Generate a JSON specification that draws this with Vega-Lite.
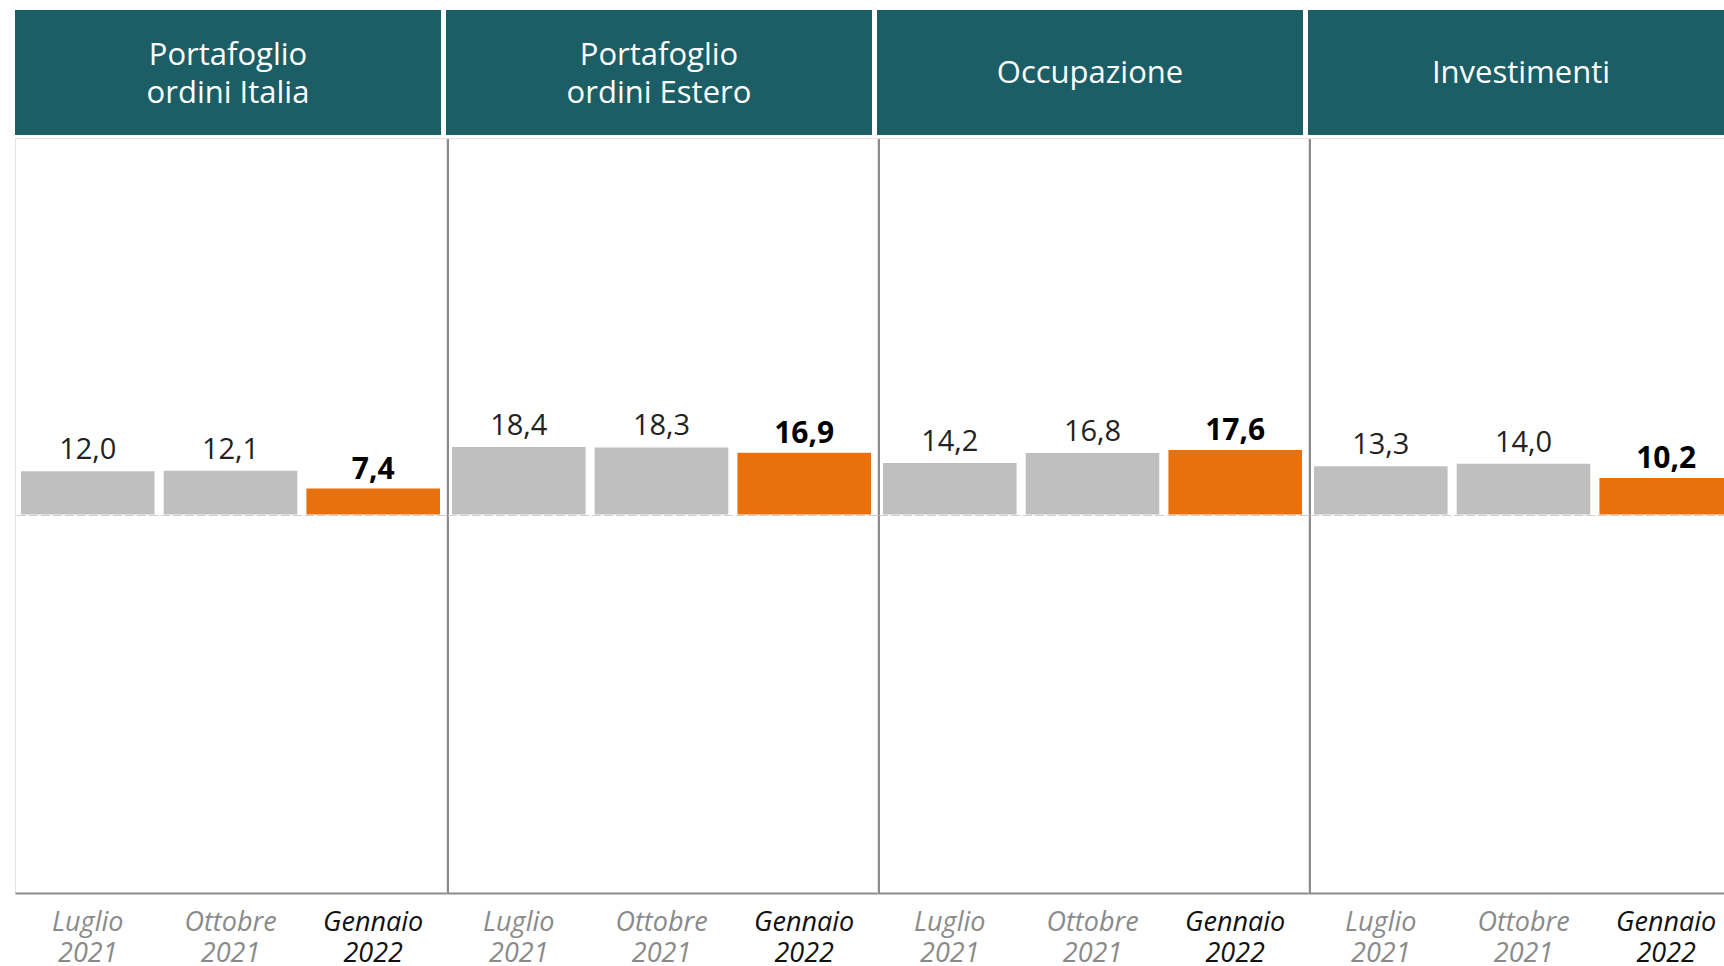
{
  "$schema": "https://vega.github.io/schema/vega-lite/v6.json",
  "padding": {"left": 13, "top": 10, "right": 0, "bottom": 0},
  "background": "white",
  "datasets": {
    "hdr": [
      {"o": 1, "label": "Portafoglio\nordini Italia", "two": 1},
      {"o": 2, "label": "Portafoglio\nordini Estero", "two": 1},
      {"o": 3, "label": "Occupazione", "two": 0},
      {"o": 4, "label": "Investimenti", "two": 0}
    ],
    "bars": [
      {"o": 1, "period": "Luglio 2021", "value": 12.0, "hl": 0},
      {"o": 1, "period": "Ottobre 2021", "value": 12.1, "hl": 0},
      {"o": 1, "period": "Gennaio 2022", "value": 7.4, "hl": 1},
      {"o": 2, "period": "Luglio 2021", "value": 18.4, "hl": 0},
      {"o": 2, "period": "Ottobre 2021", "value": 18.3, "hl": 0},
      {"o": 2, "period": "Gennaio 2022", "value": 16.9, "hl": 1},
      {"o": 3, "period": "Luglio 2021", "value": 14.2, "hl": 0},
      {"o": 3, "period": "Ottobre 2021", "value": 16.8, "hl": 0},
      {"o": 3, "period": "Gennaio 2022", "value": 17.6, "hl": 1},
      {"o": 4, "period": "Luglio 2021", "value": 13.3, "hl": 0},
      {"o": 4, "period": "Ottobre 2021", "value": 14.0, "hl": 0},
      {"o": 4, "period": "Gennaio 2022", "value": 10.2, "hl": 1}
    ]
  },
  "vconcat": [
    {
      "data": {"name": "hdr"},
      "facet": {"column": {"field": "o", "type": "ordinal", "header": {"title": null, "labels": false}}},
      "spacing": 5,
      "spec": {
        "width": 426,
        "height": 125,
        "view": {"fill": "#1B5E65", "stroke": null},
        "layer": [
          {
            "transform": [{"filter": "datum.two == 1"}],
            "mark": {"type": "text", "color": "white", "font": "Open Sans", "fontSize": 31, "lineBreak": "\n", "lineHeight": 38, "align": "center", "baseline": "middle", "dy": -17},
            "encoding": {"text": {"field": "label"}}
          },
          {
            "transform": [{"filter": "datum.two == 0"}],
            "mark": {"type": "text", "color": "white", "font": "Open Sans", "fontSize": 31, "align": "center", "baseline": "middle", "dy": 1},
            "encoding": {"text": {"field": "label"}}
          }
        ]
      }
    },
    {
      "data": {"name": "bars"},
      "facet": {"column": {"field": "o", "type": "ordinal", "header": {"title": null, "labels": false}}},
      "spacing": 0,
      "bounds": "flush",
      "resolve": {"axis": {"y": "independent", "x": "independent"}},
      "spec": {
        "width": 431,
        "height": 755,
        "view": {"stroke": "#E3E3E3", "strokeWidth": 1, "fill": null},
        "encoding": {
          "x": {
            "field": "period", "type": "nominal", "sort": ["Luglio 2021", "Ottobre 2021", "Gennaio 2022"],
            "scale": {"paddingInner": 0.05, "paddingOuter": 0.035},
            "axis": {
              "title": null, "ticks": false, "labelAngle": 0,
              "domainColor": "#8C8C8C", "domainWidth": 2,
              "labelExpr": "split(datum.label, ' ')",
              "labelFont": "Open Sans", "labelFontStyle": "italic", "labelFontSize": 27,
              "labelLineHeight": 31, "labelBaseline": "top", "labelPadding": 16,
              "labelColor": {"condition": {"test": "datum.value == 'Gennaio 2022'", "value": "#111111"}, "value": "#8A8A8A"}
            }
          },
          "y": {
            "field": "value", "type": "quantitative",
            "scale": {"domain": [-100, 100], "nice": false},
            "axis": {"orient": "right", "offset": 1.5, "zindex": 2, "title": null, "labels": false, "ticks": false, "grid": false, "domainColor": "#8C8C8C", "domainWidth": 2}
          }
        },
        "layer": [
          {
            "mark": {"type": "bar", "stroke": "white", "strokeWidth": 2},
            "encoding": {
              "color": {"condition": {"test": "datum.hl == 1", "value": "#E8710D"}, "value": "#BFBFBF"}
            }
          },
          {
            "mark": {"type": "rule", "color": "#CFCFCF", "strokeDash": [9, 3], "strokeWidth": 1.2},
            "encoding": {"x": null, "y": {"datum": 0, "type": "quantitative"}}
          },
          {
            "transform": [{"filter": "datum.hl == 0"}],
            "mark": {"type": "text", "font": "Open Sans", "fontSize": 29, "color": "#222222", "baseline": "alphabetic", "dy": -11},
            "encoding": {"text": {"field": "value", "type": "quantitative", "format": ".1f"}}
          },
          {
            "transform": [{"filter": "datum.hl == 1"}],
            "mark": {"type": "text", "font": "Open Sans", "fontSize": 30, "fontWeight": "bold", "color": "#000000", "baseline": "alphabetic", "dy": -9},
            "encoding": {"text": {"field": "value", "type": "quantitative", "format": ".1f"}}
          }
        ]
      }
    }
  ],
  "spacing": 2,
  "config": {
    "locale": {"number": {"decimal": ",", "thousands": ".", "grouping": [3], "currency": ["€", ""]}},
    "facet": {"spacing": 0}
  }
}
